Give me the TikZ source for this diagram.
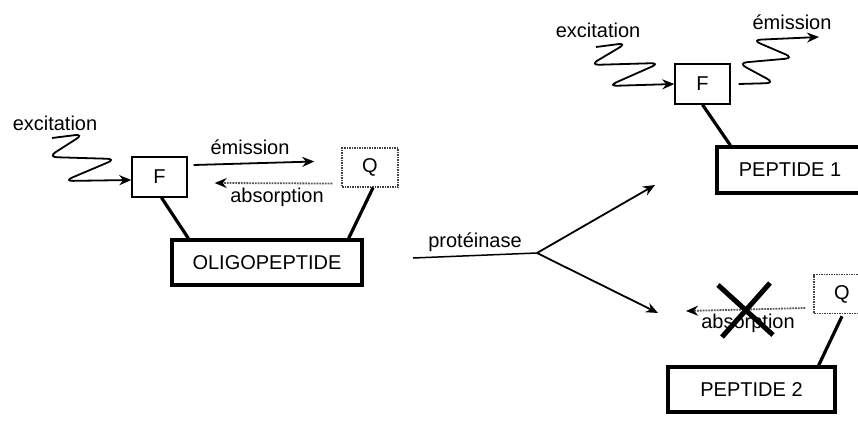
\documentclass[tikz,border=0pt]{standalone}
\usepackage{fontspec}
\setmainfont{Liberation Sans}
\usetikzlibrary{arrows.meta,calc}
\begin{document}
\begin{tikzpicture}[x=1pt,y=-1pt,
  lbl/.style={inner sep=0pt,font=\fontsize{20}{22}\selectfont},
  fbox/.style={draw,line width=1.4pt,minimum width=55pt,minimum height=40pt,inner sep=0pt,font=\fontsize{20}{22}\selectfont},
  qbox/.style={draw=black!75,densely dotted,line width=1.5pt,minimum width=56pt,minimum height=39pt,inner sep=0pt,font=\fontsize{20}{22}\selectfont},
  pbox/.style={draw,line width=3.2pt,inner sep=0pt,font=\fontsize{20}{22}\selectfont},
  link/.style={line width=3.2pt},
  arr/.style={line width=1.8pt,-{Stealth[length=12pt,width=10pt]}},
  darr/.style={draw=black!65,densely dotted,line width=1.8pt,-{Stealth[length=12pt,width=10pt,color=black]}},
  wave/.style={line width=1.8pt,rounded corners=9pt,-{Stealth[length=12pt,width=10pt]}}]
\useasboundingbox (0,0) rectangle (858,433);
\fill[white] (0,0) rectangle (858,433);

% ---------- left: oligopeptide ----------
\node[fbox] (F1) at (159.5,177) {F};
\node[qbox] (Q1) at (370,167.5) {Q};
\node[pbox,minimum width=190pt,minimum height=45pt] (olig) at (267,262.5) {OLIGOPEPTIDE};
\node[lbl] (exc1) at (55,123) {excitation};
\node[lbl] (em1) at (250,147) {émission};
\node[lbl] (abs1) at (277,197) {absorption};
\coordinate (w1) at (52,138);
\draw[wave] (w1) -- (84,134) -- (48,157) -- (116,159) -- (64,181) -- (F1.west |- 0,180);
\draw[arr] ($(F1.east)+(6,-12)$) -- ($(Q1.west)+(-27,-6)$);
\draw[darr] ($(Q1.west)+(-9,16)$) -- ($(F1.east)+(27,6)$);
\draw[link] ($(F1.south)+(2,0)$) -- ($(olig.north west)+(18,0)$);
\draw[link] ($(Q1.south)+(3,0)$) -- ($(olig.north east)+(-15,0)$);

% ---------- middle: proteinase ----------
\coordinate (p0) at (413,258);
\coordinate (br) at (537,253);
\coordinate (up) at (655,185);
\coordinate (dn) at (658,313);
\node[lbl] (prot) at (475,242) {protéinase};
\draw[line width=1.5pt] (p0) -- (br);
\draw[arr] (br) -- (up);
\draw[arr] (br) -- (dn);

% ---------- right top: peptide 1 ----------
\node[fbox] (F2) at (702.5,84) {F};
\node[pbox,minimum width=146pt,minimum height=46pt] (pep1) at (790,170) {PEPTIDE 1};
\node[lbl] (exc2) at (598,30) {excitation};
\node[lbl] (em2) at (792,22) {émission};
\draw[wave] (596,47) -- (627,43) -- (590,65) -- (660,63) -- (608,86) -- (F2.west |- 0,84);
\draw[wave] ($(F2.east)+(8,0)$) -- (775,83) -- (738,63) -- (794,58) -- (752,40) -- (819,37);
\draw[link] ($(F2.south)+(0,0)$) -- ($(pep1.north west)+(15,0)$);

% ---------- right bottom: peptide 2 ----------
\node[qbox] (Q2) at (842,294) {Q};
\node[pbox,minimum width=167pt,minimum height=45pt] (pep2) at (751.5,389.5) {PEPTIDE 2};
\node[lbl] (abs2) at (748,323) {absorption};
\draw[darr] ($(Q2.west)+(-8,14)$) -- (686,311);
\draw[link] ($(Q2.south)+(0,2)$) -- ($(pep2.north east)+(-18,0)$);
\draw[line width=5pt] (718,285) -- (773,335);
\draw[line width=5pt] (770,283) -- (722,337);
\end{tikzpicture}
\end{document}
